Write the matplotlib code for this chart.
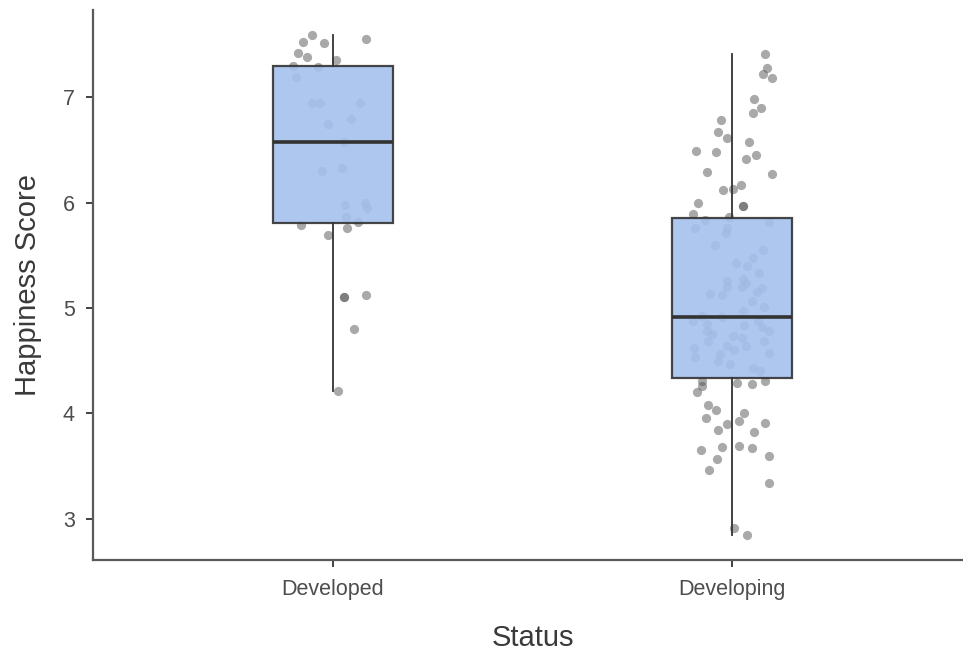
import numpy as np
import matplotlib
matplotlib.use("Agg")
import matplotlib.pyplot as plt

plt.rcParams['font.family'] = ['Liberation Sans', 'DejaVu Sans']

# Happiness scores by development status
categories = ["Developed", "Developing"]

developed = [7.59, 7.52, 7.515, 7.556, 7.42, 7.38, 7.357, 7.30, 7.29, 7.19,
             6.94, 6.946, 6.94, 6.79, 6.75, 6.57, 6.33, 6.30, 5.98, 6.00,
             5.945, 5.86, 5.82, 5.79, 5.755, 5.69, 5.10, 5.105, 5.12, 4.80,
             4.21]
# horizontal jitter for each point (category units)
developed_jit = [-0.053, -0.075, -0.023, 0.083, -0.088, -0.065, 0.008, -0.1, -0.038, -0.093,
                 -0.053, -0.033, 0.068, 0.045, -0.013, 0.028, 0.023, -0.028, 0.03, 0.08,
                 0.085, 0.033, 0.063, -0.08, 0.035, -0.013, 0.028, 0.028, 0.083, 0.053,
                 0.013]

developing = [7.405, 7.28, 7.22, 7.18, 6.98, 6.90, 6.85, 6.78, 6.67, 6.61,
              6.57, 6.485, 6.475, 6.45, 6.41, 6.29, 6.27, 6.17, 6.12, 6.13,
              5.97, 5.965, 6.00, 5.89, 5.83, 5.86, 5.82,
              5.755, 5.71, 5.76, 5.60, 5.55, 5.47, 5.43, 5.40, 5.33, 5.26,
              5.27, 5.24, 5.20, 5.19, 5.20, 5.155, 5.13, 5.12, 5.07, 5.01,
              4.97, 4.88, 4.845, 4.91, 4.88, 4.84, 4.78, 4.73, 4.78, 4.69,
              4.69, 4.62, 4.64, 4.64, 4.56, 4.53, 4.57, 4.50, 4.43, 4.40,
              4.47, 4.60, 4.75, 4.82, 4.71, 4.925,
              4.31, 4.29, 4.28, 4.31, 4.26, 4.20, 4.08, 4.03, 3.955, 4.00,
              3.93, 3.90, 3.91, 3.84, 3.82, 3.65, 3.68, 3.685, 3.67, 3.57,
              3.59, 3.46, 3.34, 2.91, 2.845]
developing_jit = [0.083, 0.088, 0.078, 0.1, 0.055, 0.073, 0.053, -0.028, -0.035, -0.013,
                  0.043, -0.09, -0.04, 0.06, 0.035, -0.063, 0.1, 0.023, -0.023, 0.003,
                  0.028, 0.028, -0.085, -0.098, -0.068, -0.008, 0.093,
                  -0.093, -0.015, -0.013, -0.043, 0.078, 0.053, 0.01, 0.038, 0.068, -0.013,
                  0.028, 0.035, 0.025, 0.075, -0.013, 0.063, -0.055, -0.025, 0.05, 0.08,
                  0.028, -0.098, -0.063, -0.025, 0.065, 0.03, -0.063, 0.003, 0.093, -0.06,
                  0.08, -0.095, -0.013, 0.035, -0.03, -0.093, 0.093, -0.035, 0.053, 0.07,
                  -0.005, 0.005, -0.05, 0.075, 0.025, -0.075,
                  -0.075, 0.013, 0.05, 0.083, -0.075, -0.088, -0.06, -0.04, -0.065, 0.03,
                  0.018, -0.013, 0.083, -0.035, 0.055, -0.078, -0.025, 0.018, 0.05, -0.038,
                  0.093, -0.058, 0.093, 0.005, 0.038]

groups = [developed, developing]
jitters = [developed_jit, developing_jit]

fig = plt.figure(figsize=(9.63, 6.53), dpi=100)
ax = fig.add_axes([93 / 963, 93 / 653, (972 - 93) / 963, 550 / 653])

# jittered points underneath the boxes
for i, (vals, jit) in enumerate(zip(groups, jitters)):
    xs = i + np.array(jit)
    ax.scatter(xs, vals, s=44, color='#555555', alpha=0.5, linewidths=0, zorder=1)

bp = ax.boxplot(groups, positions=[0, 1], widths=0.3, patch_artist=True,
                showfliers=False, showcaps=False, zorder=2,
                boxprops=dict(facecolor='#a4c1ee', edgecolor='#333333',
                              linewidth=1.6, alpha=0.9),
                medianprops=dict(color='#333333', linewidth=2.6),
                whiskerprops=dict(color='#333333', linewidth=1.3))
for b in bp['boxes']:
    b.set_edgecolor((0.2, 0.2, 0.2, 1.0))

allv = np.concatenate([developed, developing])
pad = (allv.max() - allv.min()) * 0.05
ax.set_ylim(allv.min() - pad, allv.max() + pad)
ax.set_xlim(-0.6, 1.6)

ax.set_xticks([0, 1])
ax.set_xticklabels(categories)
ax.set_yticks([3, 4, 5, 6, 7])

for s in ['top', 'right']:
    ax.spines[s].set_visible(False)
for s in ['left', 'bottom']:
    ax.spines[s].set_color('#5a5a5a')
    ax.spines[s].set_linewidth(1.6)

ax.tick_params(length=5, width=1.3, color='#333333', labelcolor='#4d4d4d',
               labelsize=15.5, pad=9)
ax.tick_params(axis='y', pad=8)

ax.set_xlabel('Status', fontsize=21, color='#3a3a3a', labelpad=17)
ax.set_ylabel('Happiness Score', fontsize=21, color='#3a3a3a', labelpad=15)

fig.savefig('out.png', dpi=100)
